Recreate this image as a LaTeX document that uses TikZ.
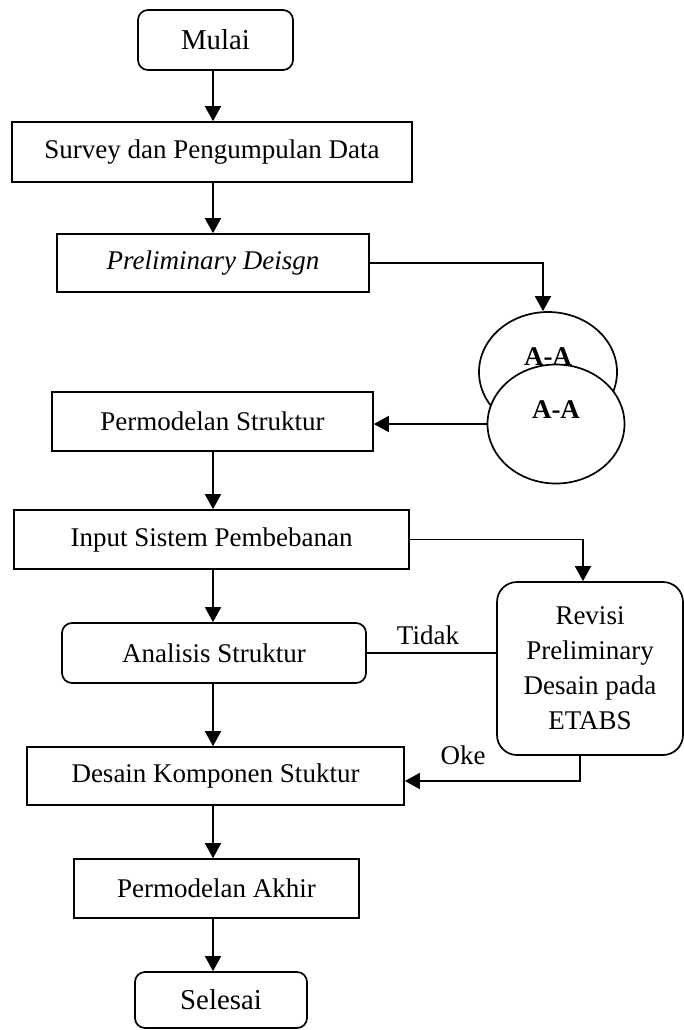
\documentclass[tikz,border=0pt]{standalone}
\usepackage{fontspec}
\setmainfont{Liberation Serif}
\usetikzlibrary{arrows.meta,shapes.geometric}
\begin{document}
\begin{tikzpicture}[x=0.5pt,y=-0.5pt,
  every node/.style={font=\fontsize{13.5}{17.5}\selectfont},
  box/.style={draw,line width=0.85pt,inner sep=0pt,align=center},
  rbox/.style={box,rounded corners=5pt},
  term/.style={rbox,font=\fontsize{14.4}{17.5}\selectfont},
  oval/.style={draw,line width=0.85pt,ellipse,fill=white,inner sep=0pt},
  line/.style={line width=0.85pt},
  arr/.style={line,-{Triangle[width=8pt,length=7.5pt]}}]
\useasboundingbox (0,0) rectangle (684,1030);
\coordinate (axis) at (213,0);
\node[term,minimum width=77.5pt,minimum height=30pt] (mulai) at (215.5,40) {Mulai};
\node[box,minimum width=200pt,minimum height=30pt] (survey) at (212,152) {Survey dan Pengumpulan Data};
\node[box,minimum width=156pt,minimum height=29pt] (prelim) at (213,263) {\itshape Preliminary Deisgn};
\node[oval,minimum width=69pt,minimum height=60pt] (c1) at (548,372) {};
\node[font=\fontsize{13.5}{16}\selectfont\bfseries] (c1t) at (548,357) {A-A};
\node[oval,minimum width=68.5pt,minimum height=59.5pt] (c2) at (556,424) {};
\node[font=\fontsize{13.5}{16}\selectfont\bfseries] (c2t) at (556,410) {A-A};
\node[box,minimum width=160.5pt,minimum height=29.5pt] (perm) at (212.5,421.5) {Permodelan Struktur};
\node[box,minimum width=197.5pt,minimum height=29.5pt] (input) at (211.5,539.5) {Input Sistem Pembebanan};
\node[rbox,minimum width=152pt,minimum height=30pt] (anal) at (214,653) {Analisis Struktur};
\node[box,minimum width=188.5pt,minimum height=29pt] (desain) at (215.5,776) {Desain Komponen Stuktur};
\node[box,minimum width=142.5pt,minimum height=29.5pt] (akhir) at (216.5,888.5) {Permodelan Akhir};
\node[term,minimum width=86pt,minimum height=28pt] (selesai) at (221,1000) {Selesai};
\node[box,rounded corners=10pt,minimum width=93pt,minimum height=86.5pt] (rev) at (590,668.5) {Revisi\\Preliminary\\Desain pada\\ETABS};
\node (tidak) at (428,635) {Tidak};
\node (oke) at (463,755) {Oke};
\draw[arr] (axis |- mulai.south) -- (axis |- survey.north);
\draw[arr] (axis |- survey.south) -- (axis |- prelim.north);
\draw[arr] (prelim.east) -| ([xshift=-2.5pt]c1.north);
\draw[arr] (c2.west) -- (perm.east |- c2.west);
\draw[arr] (axis |- perm.south) -- (axis |- input.north);
\draw[arr] (axis |- input.south) -- (axis |- anal.north);
\draw[arr] (input.east) -| ([xshift=-3.5pt]rev.north);
\draw[line] (anal.east) -- (rev.west |- anal.east);
\draw[arr] (axis |- anal.south) -- (axis |- desain.north);
\draw[arr] ([xshift=-5pt]rev.south) |- ([yshift=-2.5pt]desain.east);
\draw[arr] (axis |- desain.south) -- (axis |- akhir.north);
\draw[arr] (axis |- akhir.south) -- (axis |- selesai.north);
\end{tikzpicture}
\end{document}
